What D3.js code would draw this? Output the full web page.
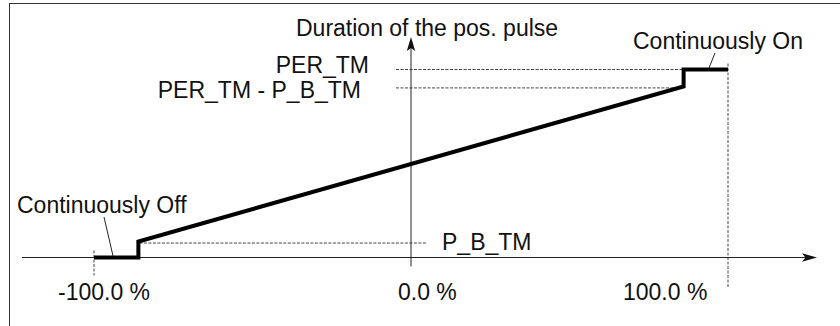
<!DOCTYPE html>
<html>
<head>
<meta charset="utf-8">
<script src="https://cdn.jsdelivr.net/npm/d3@7"></script>
<style>
  html, body { margin: 0; padding: 0; background: #fff; }
  svg { display: block; }
  text { font-family: "Liberation Sans", Arial, sans-serif; font-size: 23px; fill: #111; }
</style>
</head>
<body>
<svg id="chart" width="840" height="326"></svg>
<script>
// Manipulated variable (%) -> duration of the positive pulse
const curveX = [-100, -86, -86, 86, 86, 100];
const curveY = [0, 0, 8.5, 91, 100, 100];

const tickValues = [-100, 0, 100];
const tickLabels = ["-100.0 %", "0.0 %", "100.0 %"];

const levelNames = ["PER_TM", "PER_TM - P_B_TM", "P_B_TM"];
const levelValues = [100, 91, 8.5];

const axisTitle = "Duration of the pos. pulse";
const regionNames = ["Continuously Off", "Continuously On"];

const svg = d3.select("#chart");

const x = d3.scaleLinear().domain([-100, 100]).range([94, 728]);
const y = d3.scaleLinear().domain([0, 100]).range([257.5, 69.5]);

// frame
svg.append("rect")
  .attr("x", 9.5).attr("y", 3.5)
  .attr("width", 840).attr("height", 340)
  .attr("fill", "none").attr("stroke", "#333").attr("stroke-width", 1);

const dash = { stroke: "#444", width: 1, pattern: "3,1.5" };
function dashed(x1, y1, x2, y2) {
  svg.append("line")
    .attr("x1", x1).attr("y1", y1).attr("x2", x2).attr("y2", y2)
    .attr("stroke", dash.stroke).attr("stroke-width", dash.width)
    .attr("stroke-dasharray", dash.pattern);
}

// reference levels
dashed(396, y(levelValues[0]), x(86), y(levelValues[0]));
dashed(396, y(levelValues[1]) + 1.5, x(86), y(levelValues[1]) + 1.5);
dashed(x(-86) + 1, y(levelValues[2]) + 1.5, x(0) + 16, y(levelValues[2]) + 1.5);

// limits at +/-100 %
dashed(x(100), y(100) - 6, x(100), y(0) + 31);
dashed(x(-100), y(0) - 7, x(-100), y(0) + 18);

// axes
const x0 = x(0), y0 = y(0);
svg.append("line")
  .attr("x1", 22).attr("y1", y0).attr("x2", 806).attr("y2", y0)
  .attr("stroke", "#222").attr("stroke-width", 1);
svg.append("line")
  .attr("x1", x0).attr("y1", y0 + 9).attr("x2", x0).attr("y2", 48)
  .attr("stroke", "#222").attr("stroke-width", 1);

const xTip = 817, yTip = 37;
svg.append("path")
  .attr("d", `M${xTip},${y0} L${xTip - 15},${y0 - 4.2} L${xTip - 11.5},${y0} L${xTip - 15},${y0 + 4.2} Z`)
  .attr("fill", "#111");
svg.append("path")
  .attr("d", `M${x0},${yTip} L${x0 - 4.2},${yTip + 14} L${x0},${yTip + 11} L${x0 + 4.2},${yTip + 14} Z`)
  .attr("fill", "#111");

// characteristic curve
const pts = curveX.map((v, i) => [v, curveY[i]]);
svg.append("path")
  .datum(pts)
  .attr("d", d3.line().x(d => x(d[0])).y(d => y(d[1])))
  .attr("fill", "none").attr("stroke", "#000")
  .attr("stroke-width", 4).attr("stroke-linejoin", "miter");

// tick labels
const tickDx = [-36, -13, -105];
svg.selectAll("text.tick")
  .data(tickValues)
  .join("text")
  .attr("class", "tick")
  .attr("x", (d, i) => x(d) + tickDx[i])
  .attr("y", 300)
  .text((d, i) => tickLabels[i]);

// axis title
svg.append("text").attr("x", x0 - 115).attr("y", 36).text(axisTitle);

// level labels
svg.append("text").attr("x", 369).attr("y", y(levelValues[0]) + 3.5)
  .attr("text-anchor", "end").text(levelNames[0]);
svg.append("text").attr("x", 361).attr("y", y(levelValues[1]) + 11.5)
  .attr("text-anchor", "end").text(levelNames[1]);
svg.append("text").attr("x", 442).attr("y", y(levelValues[2]) + 8.5)
  .text(levelNames[2]);

// region labels with leaders
svg.append("text").attr("x", 17).attr("y", 213).text(regionNames[0]);
svg.append("line")
  .attr("x1", 104).attr("y1", 217).attr("x2", x(-94)).attr("y2", y(0) - 1.5)
  .attr("stroke", "#222").attr("stroke-width", 1);

svg.append("text").attr("x", 633).attr("y", 49).text(regionNames[1]);
svg.append("line")
  .attr("x1", 715).attr("y1", 53).attr("x2", x(94)).attr("y2", y(100) - 1.5)
  .attr("stroke", "#222").attr("stroke-width", 1);
</script>
</body>
</html>
